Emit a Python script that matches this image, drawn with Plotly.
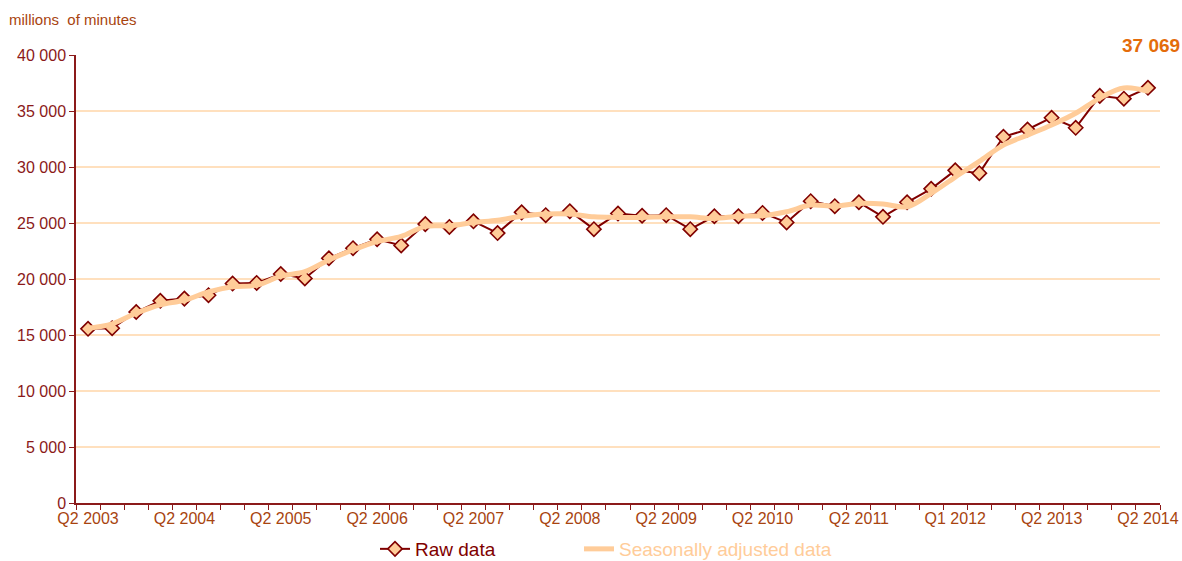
import plotly.graph_objects as go

# Quarters Q2 2003 .. Q2 2014 (45 categories)
quarters = []
for year in range(2003, 2015):
    for q in range(1, 5):
        if (year == 2003 and q < 2) or (year == 2014 and q > 2):
            continue
        quarters.append(f"Q{q} {year}")

raw_data = [15550, 15600, 17050, 18050, 18250, 18550, 19600, 19650, 20450, 20050,
            21850, 22750, 23550, 23000, 24900, 24650, 25150, 24100, 25950, 25700,
            26050, 24450, 25850, 25650, 25700, 24450, 25600, 25600, 25900, 25050,
            26950, 26500, 26850, 25550, 26850, 28050, 29700, 29450, 32700, 33350,
            34400, 33500, 36350, 36100, 37069]

seasonally_adjusted = [15600, 16000, 16950, 17700, 18100, 18850, 19300, 19450, 20250, 20650,
                       21700, 22600, 23350, 23800, 24700, 24750, 25050, 25250, 25600, 25800,
                       25800, 25550, 25500, 25500, 25550, 25550, 25400, 25600, 25650, 26000,
                       26600, 26500, 26750, 26700, 26450, 27650, 29100, 30500, 31950, 32850,
                       33750, 34800, 36150, 37050, 36750]

tick_positions = [0, 4, 8, 12, 16, 20, 24, 28, 32, 36, 40, 44]
tick_labels = ["Q2 2003", "Q2 2004", "Q2 2005", "Q2 2006", "Q2 2007", "Q2 2008",
               "Q2 2009", "Q2 2010", "Q2 2011", "Q1 2012", "Q2 2013", "Q2 2014"]

y_ticks = [0, 5000, 10000, 15000, 20000, 25000, 30000, 35000, 40000]

x_idx = list(range(len(quarters)))

DARK_RED = "#800000"
PEACH = "#FFCC99"
AXIS_RED = "#8B1A1A"
LABEL_BROWN = "#A8440F"
FONT = "Liberation Sans, Arial, sans-serif"

W, H = 1182, 561
L, T, R, B = 76, 55, 22, 58
PW, PH = W - L - R, H - T - B

fig = go.Figure()
fig.add_trace(go.Scatter(
    x=x_idx, y=raw_data, name="Raw data", mode="lines+markers",
    line=dict(color=DARK_RED, width=2),
    marker=dict(symbol="diamond", size=11, color=PEACH,
                line=dict(color=DARK_RED, width=1.6)),
    customdata=quarters, legend="legend",
))
fig.add_trace(go.Scatter(
    x=x_idx, y=seasonally_adjusted,
    name="<span style='color:#FFCC99'>Seasonally adjusted data</span>",
    mode="lines", line=dict(color=PEACH, width=5, shape="spline", smoothing=1.0),
    customdata=quarters, legend="legend2",
))

legend_common = dict(orientation="h", xref="container", yref="container",
                     xanchor="left", yanchor="top", y=1 - 530 / H,
                     font=dict(size=19, color=DARK_RED, family=FONT),
                     bgcolor="rgba(0,0,0,0)")

fig.update_layout(
    width=W, height=H,
    margin=dict(l=L, r=R, t=T, b=B, autoexpand=False),
    paper_bgcolor="white", plot_bgcolor="white",
    font=dict(family=FONT, size=16, color=AXIS_RED),
    separators=", ",
    showlegend=True,
    legend=dict(x=375 / W, **legend_common),
    legend2=dict(x=579 / W, **legend_common),
    xaxis=dict(
        range=[-0.5, len(quarters) - 0.5],
        tickmode="array", tickvals=tick_positions, ticktext=tick_labels,
        ticks="", showgrid=False, zeroline=False,
        showline=True, linecolor=AXIS_RED, linewidth=1.5,
        tickfont=dict(size=16, color=LABEL_BROWN, family=FONT),
        minor=dict(ticks="outside", ticklen=5, tickcolor=AXIS_RED, tickwidth=1,
                   tick0=-0.5, dtick=1, showgrid=False),
    ),
    yaxis=dict(
        range=[0, 40000], tickmode="array", tickvals=y_ticks,
        tickformat=",d",
        showgrid=True, gridcolor="#FFE0BE", gridwidth=2, zeroline=False,
        showline=True, linecolor=AXIS_RED, linewidth=1.5,
        ticks="outside", ticklen=5, tickcolor=AXIS_RED,
        tickfont=dict(size=16, color=AXIS_RED, family=FONT),
    ),
    annotations=[
        dict(text="millions&nbsp; of minutes", xref="paper", yref="paper",
             x=(7 - L) / PW, y=(H - B - 19) / PH, xanchor="left", yanchor="middle",
             showarrow=False, font=dict(size=15, color=LABEL_BROWN, family=FONT)),
        dict(text="<b>37 069</b>", xref="paper", yref="paper",
             x=1 + R / PW, y=(H - B - 46) / PH, xanchor="right", yanchor="middle",
             showarrow=False, font=dict(size=19, color="#E46C0A", family=FONT)),
    ],
)

fig.write_html(
    "out.html",
    config={"displayModeBar": False},
    post_script="document.body.style.margin='0';document.body.style.overflow='hidden';",
)
